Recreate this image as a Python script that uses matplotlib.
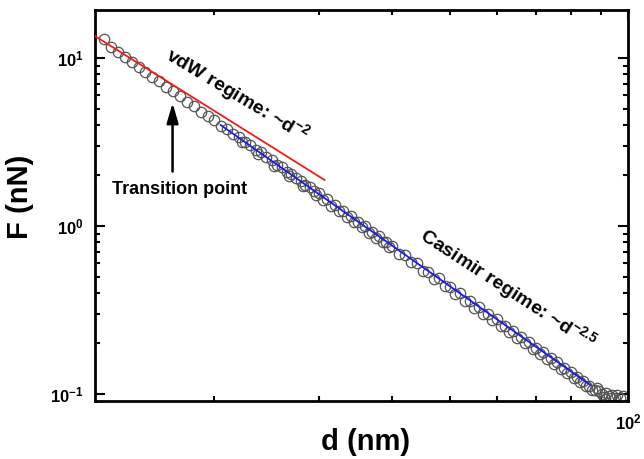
import math
import matplotlib
matplotlib.use("Agg")
import matplotlib.pyplot as plt
from matplotlib.ticker import LogLocator, NullFormatter, FuncFormatter

plt.rcParams['font.family'] = ['Liberation Sans', 'DejaVu Sans']
plt.rcParams['font.weight'] = 'bold'
plt.rcParams['mathtext.fontset'] = 'custom'
plt.rcParams['mathtext.rm'] = 'Liberation Sans:bold'
plt.rcParams['mathtext.bf'] = 'Liberation Sans:bold'
plt.rcParams['mathtext.it'] = 'Liberation Sans:bold'

# measured force curve (approach pass)
d_approach = [13.0, 13.4, 13.75, 14.1, 14.5, 14.9, 15.3, 15.7, 16.1, 16.6, 17.0, 17.5,
              18.0, 18.5, 19.0, 19.5, 20.0, 20.5, 21.0, 21.5, 22.0, 22.5, 23.0, 23.5,
              24.0, 24.5, 25.0, 25.5, 26.0, 26.5, 27.0, 27.5, 28.0, 28.5, 29.0, 29.5,
              30.0, 31, 32, 33, 34, 35, 36, 37, 38, 39, 40, 42, 44, 46, 48, 50, 52, 54,
              56, 58, 60, 62, 64, 66, 68, 70, 72, 74, 76, 78, 80, 82, 84, 86, 88]
F_approach = [12.9, 11.7, 10.8, 10.1, 9.45, 8.8, 8.25, 7.75, 7.25, 6.75, 6.35, 5.9,
              5.5, 5.15, 4.8, 4.5, 4.25, 3.95, 3.80, 3.55, 3.40, 3.17, 3.05, 2.84,
              2.74, 2.56, 2.47, 2.32, 2.24, 2.10, 2.04, 1.92, 1.86, 1.75, 1.71, 1.61,
              1.57, 1.44, 1.34, 1.23, 1.15, 1.06, 0.995, 0.92, 0.87, 0.805, 0.765,
              0.675, 0.605, 0.535, 0.487, 0.435, 0.398, 0.358, 0.331, 0.30, 0.279,
              0.254, 0.238, 0.217, 0.204, 0.187, 0.177, 0.163, 0.155, 0.143, 0.136,
              0.126, 0.120, 0.112, 0.106]

# second pass, slightly below
d_retract = [22.25, 23.75, 25.25, 26.75, 28.25, 29.75, 30.5, 31.5, 32.5, 33.5, 34.5,
             35.5, 36.5, 37.5, 38.5, 39.5, 41, 43, 45, 47, 49, 51, 53, 55, 57, 59, 61,
             63, 65, 67, 69, 71, 73, 75, 77, 79, 81, 83, 85, 87]
F_retract = [3.15, 2.67, 2.29, 1.99, 1.73, 1.52, 1.43, 1.32, 1.22, 1.13, 1.05, 0.98,
             0.913, 0.853, 0.798, 0.749, 0.683, 0.606, 0.541, 0.485, 0.437, 0.396,
             0.359, 0.327, 0.299, 0.275, 0.253, 0.233, 0.216, 0.200, 0.186, 0.173,
             0.161, 0.151, 0.141, 0.133, 0.125, 0.118, 0.111, 0.105]

# noise floor at large separation
d_tail = [88.5, 89.5, 90.5, 91, 92, 93, 94, 95, 96, 97, 98, 91.5, 93.5]
F_tail = [0.109, 0.104, 0.100, 0.096, 0.101, 0.097, 0.099, 0.095, 0.098, 0.094,
          0.097, 0.093, 0.094]

# fit lines (end points)
d_vdw = [12.57, 30.7]
F_vdw = [13.5, 1.88]
d_cas = [20.5, 86.4]
F_cas = [3.99, 0.113]

fig = plt.figure(figsize=(6.44, 4.59), dpi=100)
ax = fig.add_axes([0.1475, 0.1264, 0.8275, 0.8518])

mk = dict(linestyle='none', marker='o', markersize=7.5, markerfacecolor='none',
          markeredgecolor='#555555', markeredgewidth=0.9, zorder=2)
ax.plot(d_approach, F_approach, **mk)
ax.plot(d_retract, F_retract, **mk)
ax.plot(d_tail, F_tail, **mk)

ax.plot(d_vdw, F_vdw, color='#ee1c1c', lw=1.3, zorder=3)
ax.plot(d_cas, F_cas, color='#1a1aee', lw=1.3, zorder=3)

ax.set_xscale('log')
ax.set_yscale('log')
ax.set_xlim(12.57, 100)
ax.set_ylim(0.0908, 19.3)

ax.xaxis.set_major_locator(LogLocator(base=10))
ax.xaxis.set_minor_locator(LogLocator(base=10, subs=range(2, 10)))
ax.yaxis.set_major_locator(LogLocator(base=10))
ax.yaxis.set_minor_locator(LogLocator(base=10, subs=range(2, 10)))
ax.xaxis.set_minor_formatter(NullFormatter())
ax.yaxis.set_minor_formatter(NullFormatter())
fmt = FuncFormatter(lambda v, p: r'$\mathbf{10^{%d}}$' % round(math.log10(v)))
ax.xaxis.set_major_formatter(fmt)
ax.yaxis.set_major_formatter(fmt)

for s in ax.spines.values():
    s.set_linewidth(2.0)
ax.tick_params(which='both', direction='in', top=True, right=True, labelsize=12, width=1.5)
ax.tick_params(which='major', length=7, pad=8)
ax.tick_params(which='minor', length=3.5)

ax.set_xlabel('d (nm)', fontsize=21, fontweight='bold')
ax.set_ylabel('F (nN)', fontsize=21, fontweight='bold')
ax.xaxis.set_label_coords(0.508, -0.068)
ax.yaxis.set_label_coords(-0.115, 0.522)

ax.text(21.86, 6.0, r'vdW regime: ~d$^{-2}$', rotation=-31, fontsize=14,
        fontweight='bold', ha='center', va='center', rotation_mode='anchor')
ax.text(62.7, 0.424, r'Casimir regime: ~d$^{-2.5}$', rotation=-33, fontsize=14,
        fontweight='bold', ha='center', va='center', rotation_mode='anchor')
ax.annotate('', xy=(17.0, 5.6), xytext=(17.0, 2.03),
            arrowprops=dict(arrowstyle='-|>,head_length=1.2,head_width=0.35',
                            color='black', lw=1.8))
ax.text(17.46, 1.65, 'Transition point', fontsize=13, fontweight='bold',
        ha='center', va='center')

fig.savefig('out.png', dpi=100)
